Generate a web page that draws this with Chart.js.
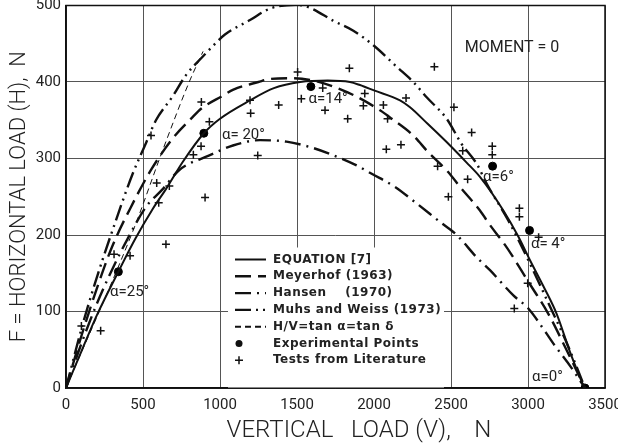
<!DOCTYPE html>
<html>
<head>
<meta charset="utf-8">
<script src="https://cdn.jsdelivr.net/npm/chart.js@4.4.0/dist/chart.umd.min.js"></script>
<style>
  html, body { margin: 0; padding: 0; background: #fff; }
  #wrap { width: 618px; height: 446px; }
</style>
</head>
<body>
<div id="wrap"><canvas id="load"></canvas></div>
<script>
// interaction curves, [V, H] in N
const equation7 = [[0,0],[100,48],[200,95],[340,152],[450,195],[563,234],[649,260],[760,296],[895,333],[1000,352],[1195,376],[1350,392],[1520,400],[1700,402],[1844,400],[1909,396],[2000,389],[2169,376],[2234,367],[2350,345],[2494,317],[2600,295],[2688,276],[2840,232],[2937,198],[3013,167],[3100,133],[3186,97],[3273,47],[3365,0]]
const meyerhof = [[0,0],[100,68],[200,130],[300,185],[433,241],[552,285],[692,326],[822,354],[877,365],[1017,382],[1087,390],[1249,400],[1325,404],[1455,405],[1600,402],[1750,393],[1876,382],[2039,363],[2115,352],[2255,330],[2353,308],[2483,282],[2558,263],[2688,232],[2753,213],[2840,190],[2894,174],[3002,139],[3132,97],[3240,54],[3370,0]]
const hansen = [[0,0],[100,58],[200,110],[300,155],[400,195],[520,237],[628,260],[736,285],[931,304],[1084,317],[1260,324],[1432,322],[1584,315],[1714,306],[1887,291],[1985,280],[2136,263],[2266,243],[2429,217],[2537,200],[2666,171],[2753,154],[2905,121],[3002,104],[3121,71],[3165,58],[3280,27],[3370,0]]
const muhsWeiss = [[0,0],[104,80],[190,138],[300,205],[433,280],[519,320],[584,350],[692,381],[779,409],[887,433],[978,452],[1032,462],[1195,481],[1325,496],[1498,501],[1584,497],[1736,480],[1866,467],[1996,448],[2147,420],[2255,400],[2342,380],[2472,352],[2569,319],[2667,293],[2732,267],[2872,219],[3000,168],[3130,112],[3260,55],[3370,0]]
const tanDelta = [[0,0],[440,208],[630,312],[800,400],[890,440]]

// measured points
const experimental = [[340,152],[895,333],[1590,394],[2770,290],[3010,206],[3370,0]]
const literature = [[100,81],[225,75],[312,175],[416,173],[552,330],[589,268],[602,242],[649,188],[671,264],[827,305],[877,316],[879,374],[903,249],[931,348],[1195,376],[1199,359],[1245,304],[1381,370],[1504,413],[1528,378],[1667,392],[1682,363],[1829,352],[1840,418],[1931,369],[1940,385],[2061,370],[2080,312],[2088,352],[2175,318],[2208,379],[2392,420],[2413,290],[2483,250],[2519,367],[2576,310],[2608,273],[2634,334],[2768,316],[2768,305],[2911,104],[2944,235],[2944,224],[2998,137],[3069,197]]

const xTicks = [0, 500, 1000, 1500, 2000, 2500, 3000, 3500]
const yTicks = [0, 100, 200, 300, 400, 500]

// angle labels [text, V, H]
const angleLabels = [
  ['α=25°', 286, 125],
  ['α= 20°', 1013, 330],
  ['α=14°', 1575, 378],
  ['α=6°', 2708, 275],
  ['α= 4°', 3019, 188],
  ['α=0°', 3026, 14]
]

const pts = arr => arr.map(p => ({ x: p[0], y: p[1] }))

function curve(label, data, dash, width) {
  return {
    label: label,
    data: pts(data),
    showLine: true,
    borderColor: '#111',
    borderWidth: width,
    borderDash: dash,
    pointRadius: 0,
    tension: 0.4,
    cubicInterpolationMode: 'monotone',
    fill: false
  }
}

const frame = {
  id: 'frame',
  beforeDatasetsDraw(chart) {
    const a = chart.chartArea, ctx = chart.ctx
    ctx.save()
    ctx.strokeStyle = '#111'
    ctx.lineWidth = 1.5
    ctx.strokeRect(a.left, a.top, a.right - a.left, a.bottom - a.top)
    ctx.restore()
  }
}

const notes = {
  id: 'notes',
  afterDatasetsDraw(chart) {
    const ctx = chart.ctx, xs = chart.scales.x, ys = chart.scales.y, a = chart.chartArea
    ctx.save()
    ctx.fillStyle = '#222'
    ctx.textBaseline = 'middle'
    ctx.textAlign = 'left'
    ctx.font = '15px Roboto'
    angleLabels.forEach(l => {
      ctx.fillText(l[0], xs.getPixelForValue(l[1]), ys.getPixelForValue(l[2]))
    })
    ctx.font = '16px Roboto'
    ctx.fillText('MOMENT = 0', xs.getPixelForValue(2590), ys.getPixelForValue(445))

    // legend box
    const lx = a.left + 162, ly = a.top + 242
    ctx.fillStyle = '#fff'
    ctx.fillRect(lx, ly, 216, 140)
    ctx.font = 'bold 12px "DejaVu Sans"'
    ctx.letterSpacing = '0.5px'
    const rowH = 16.8
    chart.data.datasets.forEach((ds, i) => {
      const y = ly + 12 + i * rowH
      ctx.strokeStyle = '#111'
      ctx.fillStyle = '#111'
      if (ds.showLine) {
        ctx.setLineDash(ds.borderDash || [])
        ctx.lineWidth = Math.max(ds.borderWidth, 2)
        ctx.beginPath()
        ctx.moveTo(lx + 7, y)
        ctx.lineTo(lx + 38, y)
        ctx.stroke()
        ctx.setLineDash([])
      } else if (ds.pointStyle === 'circle') {
        ctx.beginPath()
        ctx.arc(lx + 11, y, 3.5, 0, Math.PI * 2)
        ctx.fill()
      } else {
        ctx.lineWidth = 1.5
        ctx.beginPath()
        ctx.moveTo(lx + 7, y); ctx.lineTo(lx + 15, y)
        ctx.moveTo(lx + 11, y - 4); ctx.lineTo(lx + 11, y + 4)
        ctx.stroke()
      }
      ctx.fillStyle = '#222'
      ctx.fillText(ds.label, lx + 45, y)
    })
    ctx.restore()
  }
}

new Chart('load', {
  type: 'scatter',
  data: {
    datasets: [
      curve('EQUATION [7]', equation7, [], 2),
      curve('Meyerhof (1963)', meyerhof, [16, 7], 2.4),
      curve('Hansen    (1970)', hansen, [16, 6, 2, 6], 2.4),
      curve('Muhs and Weiss (1973)', muhsWeiss, [16, 5, 2, 5, 2, 5], 2.4),
      curve('H/V=tan α=tan δ', tanDelta, [6, 4], 1),
      {
        label: 'Experimental Points',
        data: pts(experimental),
        pointStyle: 'circle',
        pointRadius: 4,
        backgroundColor: '#000',
        borderColor: '#000'
      },
      {
        label: 'Tests from Literature',
        data: pts(literature),
        pointStyle: 'cross',
        pointRadius: 4,
        borderWidth: 1.5,
        borderColor: '#111'
      }
    ]
  },
  options: {
    responsive: true,
    maintainAspectRatio: false,
    animation: false,
    layout: { padding: { top: 5, right: 13, left: 0, bottom: 0 } },
    plugins: {
      legend: { display: false },
      tooltip: { enabled: false }
    },
    scales: {
      x: {
        type: 'linear',
        min: 0,
        max: 3500,
        afterFit: s => { s.height = 58; s.paddingLeft = 0; s.paddingRight = 0 },
        afterBuildTicks: s => { s.ticks = xTicks.map(v => ({ value: v })) },
        grid: { color: '#555', lineWidth: 1, drawTicks: false },
        border: { color: '#111', width: 1.5 },
        ticks: {
          font: { family: 'Roboto', size: 15 },
          color: '#222',
          padding: 8,
          maxRotation: 0,
          callback: v => String(v)
        },
        title: {
          display: true,
          text: '        VERTICAL   LOAD (V),    N',
          font: { family: 'Roboto', size: 24, weight: '300' },
          color: '#222',
          padding: { top: 0, bottom: 1 }
        }
      },
      y: {
        type: 'linear',
        min: 0,
        max: 500,
        afterFit: s => { s.width = 66; s.paddingTop = 0; s.paddingBottom = 0 },
        afterBuildTicks: s => { s.ticks = yTicks.map(v => ({ value: v })) },
        grid: { color: '#555', lineWidth: 1, drawTicks: false },
        border: { color: '#111', width: 1.5 },
        ticks: {
          font: { family: 'Roboto', size: 15 },
          color: '#222',
          padding: 5,
          callback: v => String(v)
        },
        title: {
          display: true,
          text: 'F = HORIZONTAL LOAD (H),  N',
          font: { family: 'Roboto', size: 22, weight: '300' },
          color: '#222',
          padding: { top: 6, bottom: 0 }
        }
      }
    }
  },
  plugins: [frame, notes]
})
</script>
</body>
</html>
